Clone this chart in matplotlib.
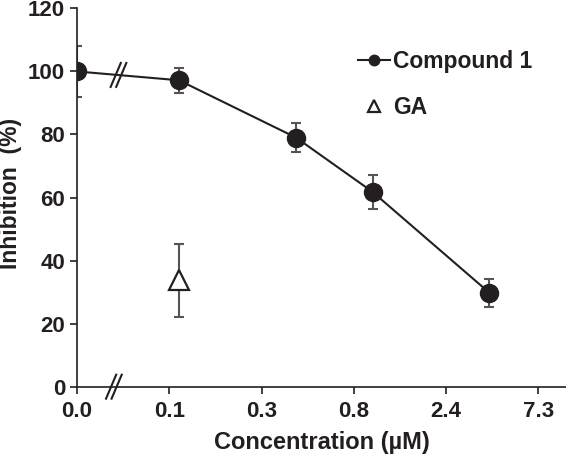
import matplotlib.pyplot as plt
from matplotlib.lines import Line2D
import numpy as np

# tick labels on an evenly spaced concentration axis
tick_labels = ['0.0', '0.1', '0.3', '0.8', '2.4', '7.3']

# Compound 1 (x given in tick-position units)
cmp_x = [0.0, 1.106, 2.375, 3.203, 4.469]
cmp_y = [100.0, 97.2, 79.0, 61.8, 29.8]
cmp_err = [8.0, 4.0, 4.5, 5.5, 4.4]

# GA
ga_x = [1.106]
ga_y = [33.7]
ga_err = [11.7]

dark = '#231f20'
plt.rcParams['font.family'] = ['Liberation Sans', 'DejaVu Sans']
plt.rcParams['font.weight'] = 'bold'

fig = plt.figure(figsize=(5.66, 4.67), dpi=100)
ax = fig.add_axes([0.136, 0.172, 0.864, 0.810])

ax.errorbar(cmp_x, cmp_y, yerr=cmp_err, fmt='none', ecolor='#555555',
            elinewidth=1.5, capsize=3.5, capthick=1.5, zorder=2)
ax.plot(cmp_x, cmp_y, '-o', color=dark, lw=1.5, ms=13, mfc=dark, mec=dark,
        zorder=3)
ax.errorbar(ga_x, ga_y, yerr=ga_err, fmt='none', ecolor='#555555',
            elinewidth=1.5, capsize=3.5, capthick=1.5, zorder=2)
ax.plot(ga_x, ga_y, '^', ms=14, mfc='white', mec=dark, mew=1.6,
        zorder=3, linestyle='none')

ax.set_xlim(0, 5.3)
ax.set_ylim(0, 120)
ax.set_xticks(range(len(tick_labels)))
ax.set_xticklabels(tick_labels)
ax.set_yticks(np.arange(0, 121, 20))

for s in ['top', 'right']:
    ax.spines[s].set_visible(False)
for s in ['left', 'bottom']:
    ax.spines[s].set_linewidth(1.2)
    ax.spines[s].set_color(dark)
ax.tick_params(axis='both', width=1.2, length=5, color=dark,
               labelsize=16, labelcolor=dark)
ax.tick_params(axis='x', pad=5)

ax.set_xlabel('Concentration (\u00b5M)', fontsize=17, fontweight='bold',
              color=dark, labelpad=7)
ax.set_ylabel('Inhibition  (%)', fontsize=16.5, fontweight='bold',
              color=dark, va='center')
ax.yaxis.set_label_coords(-0.135, 0.51)

# axis break marks
def slashes(xc, yc):
    for off in (-0.03, 0.03):
        ax.plot([xc + off - 0.055, xc + off + 0.055], [yc - 3.8, yc + 3.8],
                color=dark, lw=1.5, clip_on=False, zorder=4)

slashes(0.40, 0)
slashes(0.45, 98.9)

handles = [
    Line2D([], [], color=dark, lw=1.5, marker='o', ms=7.5, mfc=dark, mec=dark),
    Line2D([], [], linestyle='none', marker='^', ms=9, mfc='white', mec=dark, mew=1.6),
]
leg = ax.legend(handles, ['Compound 1', 'GA'], loc='upper left',
                bbox_to_anchor=(0.533, 0.945), frameon=False,
                fontsize=16.5, handlelength=1.4, handletextpad=0.1,
                labelspacing=1.0)
for t in leg.get_texts():
    t.set_color(dark)

plt.savefig('out.png', dpi=100)
